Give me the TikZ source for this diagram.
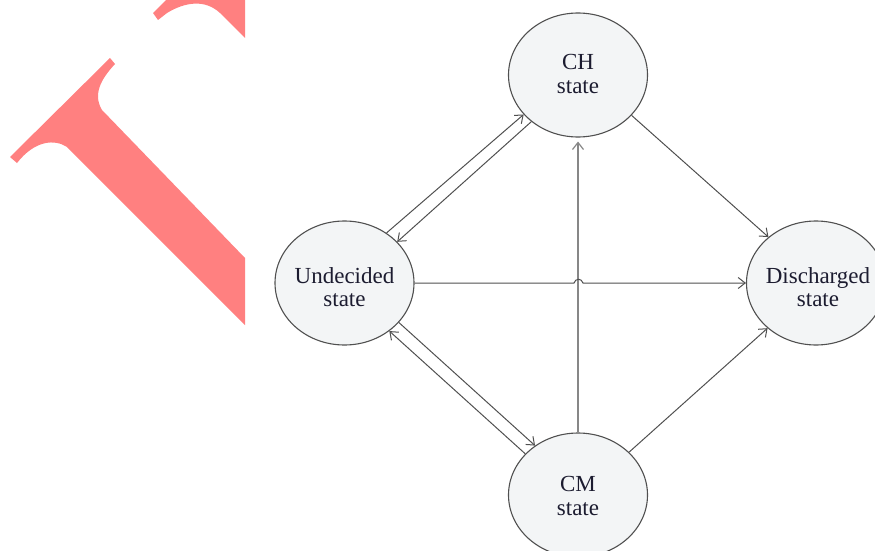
\documentclass[tikz,border=0pt]{standalone}
\usepackage{fontspec}
\setmainfont{Liberation Serif}
\usetikzlibrary{arrows.meta,calc,shapes.geometric}
\definecolor{wm}{RGB}{255,128,128}
\definecolor{edgec}{RGB}{80,80,80}
\definecolor{vlinec}{RGB}{135,135,135}
\definecolor{stfill}{RGB}{243,245,246}
\definecolor{txtc}{RGB}{28,28,48}
\begin{document}
\begin{tikzpicture}[x=1pt,y=-1pt,
  state/.style={ellipse, draw=edgec, line width=1.1pt, fill=stfill,
    minimum width=139pt, minimum height=124pt, inner sep=0pt},
  lbl/.style={align=center, text=txtc, font=\fontsize{23}{23.5}\selectfont, inner sep=0pt},
  link/.style={draw=edgec, line width=1pt, -{Straight Barb[length=7pt,width=11pt]}},
  vlink/.style={draw=vlinec, line width=1.2pt, -{Straight Barb[length=7pt,width=11pt]}},
]
\useasboundingbox (0,0) rectangle (875,551);
% watermark
\begin{scope}
  \clip (0,0) rectangle (245,551);
  \fill[wm] (10,157) -- (110,58) -- (115,64)
    .. controls (100,80) and (93,95) .. (102,110)
    -- (245,258) -- (245,325) -- (67,147)
    .. controls (55,139) and (35,140) .. (17,163) -- cycle;
  \fill[wm] (153,13) -- (166,0) -- (245,0) -- (245,38) -- (220,13)
    .. controls (205,-1) and (185,2) .. (167,13) -- (158,20) -- cycle;
\end{scope}
% states
\node[state] (ch)  at (578,75)    {};
\node[state] (und) at (344.5,283) {};
\node[state] (dis) at (816,283)   {};
\node[state] (cm)  at (578,495)   {};
\node[lbl] (chl)  at (578,74)    {CH\\state};
\node[lbl] (undl) at (344.5,287) {Undecided\\state};
\node[lbl] (disl) at (818,287)   {Discharged\\state};
\node[lbl] (cml)  at (578,496)   {CM\\state};
% undecided <-> CH
\draw[link] (und.50.2) -- (ch.216.7);
\draw[link] (ch.225.6) -- (und.38.8);
% undecided <-> CM
\draw[link] (und.-36.6) -- (cm.131.4);
\draw[link] (cm.142.5) -- (und.-47.2);
% to discharged
\draw[link] (ch.-37.4) -- (dis.136.8);
\draw[link] (cm.40.1) -- (dis.223);
% vertical CM -> CH
\draw[vlink, shorten >=4pt] (cm.north) -- (ch.south);
% horizontal with hop
\coordinate (hopl) at (574,283);
\coordinate (hopr) at (583,283);
\draw[link] (und.east) -- (hopl)
  .. controls ($(hopl)+(1.5,-5)$) and ($(hopr)+(-1.5,-5)$) .. (hopr)
  -- (dis.west);
\end{tikzpicture}
\end{document}
